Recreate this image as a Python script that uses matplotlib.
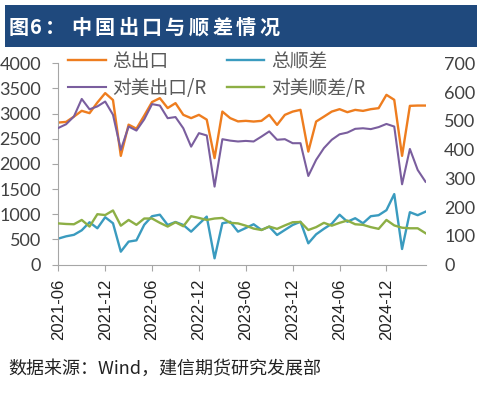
import matplotlib.pyplot as plt
from matplotlib.patches import Rectangle

plt.rcParams['font.family'] = ['Noto Sans CJK SC', 'DejaVu Sans']

# monthly data 2021-06 .. 2025-05 (亿美元)
tick_labels = ['2021-06', '2021-12', '2022-06', '2022-12',
               '2023-06', '2023-12', '2024-06', '2024-12']

total_export = [2822, 2835, 2940, 3055, 3009, 3220, 3407, 3270, 2160, 2780,
                2700, 2960, 3230, 3307, 3110, 3208, 2975, 2910, 2975, 2880,
                2115, 3040, 2910, 2845, 2856, 2842, 2856, 2975, 2776, 2975,
                3040, 3075, 2245, 2842, 2940, 3040, 3088, 3028, 3074, 3054,
                3088, 3108, 3373, 3274, 2160, 3154, 3160, 3160]
total_balance = [515, 560, 590, 680, 840, 720, 940, 820, 255, 455,
                 480, 790, 960, 990, 786, 845, 786, 653, 805, 952,
                 123, 820, 850, 653, 726, 800, 687, 753, 587, 687,
                 786, 850, 421, 600, 710, 810, 990, 850, 920, 820,
                 960, 980, 1080, 1400, 308, 1040, 980, 1050]
us_export = [475, 488, 515, 576, 540, 550, 567, 521, 399, 480,
             466, 505, 558, 553, 509, 513, 474, 410, 457, 449,
             271, 436, 431, 428, 430, 428, 445, 463, 434, 436,
             422, 422, 308, 364, 405, 434, 453, 459, 472, 474,
             471, 478, 489, 480, 279, 402, 329, 288]
us_balance = [143, 141, 140, 155, 132, 175, 172, 188, 135, 155,
              138, 160, 160, 145, 132, 147, 133, 168, 162, 155,
              160, 162, 145, 143, 135, 125, 120, 132, 124, 136,
              147, 148, 120, 130, 145, 135, 145, 153, 140, 138,
              130, 124, 155, 136, 128, 126, 126, 109]

c_orange = '#EE7D1F'
c_blue = '#3A9BBF'
c_purple = '#7A5E9E'
c_green = '#8DAF45'
grey_txt = '#404040'

W, H = 483, 394
fig = plt.figure(figsize=(W / 100, H / 100), dpi=100)

# title bar
fig.add_artist(Rectangle((5 / W, 1 - 46.5 / H), 472 / W, 41.5 / H,
                         transform=fig.transFigure, color='#1F497D', lw=0))
title_chars = ['图', '6', '：', '中', '国', '出', '口', '与', '顺', '差', '情', '况']
title_x = [9, 30, 45] + [71 + 23.5 * k for k in range(9)]
for ch, xp in zip(title_chars, title_x):
    fig.text(xp / W, 1 - 27 / H, ch, color='white', fontsize=14.5,
             fontweight='bold', va='center', ha='left')

ax = fig.add_axes([58.3 / W, 1 - 264.5 / H, (425.5 - 58.3) / W, (264.5 - 63.3) / H])
ax2 = ax.twinx()

x = list(range(len(total_export)))
l1, = ax.plot(x, total_export, color=c_orange, lw=1.7)
l2, = ax.plot(x, total_balance, color=c_blue, lw=1.7)
l3, = ax2.plot(x, us_export, color=c_purple, lw=1.5)
l4, = ax2.plot(x, us_balance, color=c_green, lw=1.7)

ax.set_xlim(0, len(x) - 1)
ax.set_ylim(0, 4000)
ax2.set_ylim(0, 700)
ax.set_yticks(range(0, 4001, 500))
ax2.set_yticks(range(0, 701, 100))
ax.set_xticks(range(0, 48, 6))
ax.set_xticklabels(tick_labels, rotation=90, fontsize=12,
                   family='Liberation Sans', color='#222222')

for a in (ax, ax2):
    for s in a.spines.values():
        s.set_visible(False)
ax.spines['left'].set_visible(True)
ax.spines['bottom'].set_visible(True)
ax.spines['left'].set_color('#A6A6A6')
ax.spines['bottom'].set_color('#A6A6A6')

ax.tick_params(axis='y', length=4, color='#A6A6A6', pad=8.5, labelsize=13, labelcolor=grey_txt)
ax.tick_params(axis='x', length=4, color='#A6A6A6', pad=6)
ax2.tick_params(axis='y', length=0, pad=13.5, labelsize=13, labelcolor=grey_txt)
for lab in ax.get_yticklabels() + ax2.get_yticklabels():
    lab.set_family('Lato')

handles = [l1, l3, l2, l4]
labels = ['总出口', '对美出口/R', '总顺差', '对美顺差/R']
leg = ax2.legend(handles, labels, ncol=2, frameon=False, loc='upper left',
                 bbox_to_anchor=(68 / W, 1 - 51 / H), bbox_transform=fig.transFigure,
                 borderpad=0, borderaxespad=0, handlelength=2.0, handletextpad=0.35,
                 columnspacing=1.1, labelspacing=0.3, fontsize=13.5)
for t in leg.get_texts():
    t.set_color('#595959')

fig.text(8 / W, 1 - 369 / H, '数据来源：Wind，建信期货研究发展部', fontsize=13,
         va='center', ha='left', color='#222222', style='italic')

fig.savefig('out.png', dpi=100)
